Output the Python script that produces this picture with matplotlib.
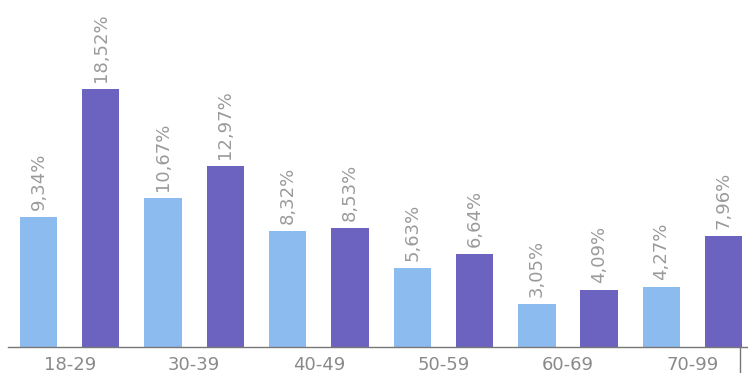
import matplotlib
matplotlib.use('Agg')
import matplotlib.pyplot as plt
import numpy as np

# Возрастные группы и доли
groups = ['18-29', '30-39', '40-49', '50-59', '60-69', '70-99']
light = [9.34, 10.67, 8.32, 5.63, 3.05, 4.27]
dark = [18.52, 12.97, 8.53, 6.64, 4.09, 7.96]

c_light = '#8cbcef'
c_dark = '#6b63bf'
c_text = '#9a9a9a'

fig = plt.figure(figsize=(7.48, 3.73), dpi=100)
ax = fig.add_axes([8 / 748, 26 / 373, 740 / 748, 347 / 373])

x = np.arange(len(groups))
pos_l = 2 * x
pos_d = 2 * x + 1
w = 0.6
ax.bar(pos_l, light, width=w, color=c_light)
ax.bar(pos_d, dark, width=w, color=c_dark)

def fmt(v):
    return ('%.2f' % v).replace('.', ',') + '%'

for p, v in zip(list(pos_l) + list(pos_d), light + dark):
    ax.text(p, v + 0.5, fmt(v), rotation=90, ha='center', va='bottom',
            color=c_text, fontsize=13)

ax.set_xticks(2 * x + 0.5)
ax.set_xticklabels(groups, fontsize=13, color='#8a8a8a')
ax.tick_params(axis='x', length=0, pad=6.5)
ax.set_yticks([])
ax.set_xlim(-0.49, 11.39)
ax.set_ylim(0, 24.87)
for s in ['top', 'right', 'left']:
    ax.spines[s].set_visible(False)
ax.spines['bottom'].set_color('#777777')
ax.spines['bottom'].set_linewidth(1)

# короткая вертикальная черта справа
ax.plot([11.26, 11.26], [0, -2], color='#777777', lw=1, clip_on=False)

plt.savefig('out.png', dpi=100)
